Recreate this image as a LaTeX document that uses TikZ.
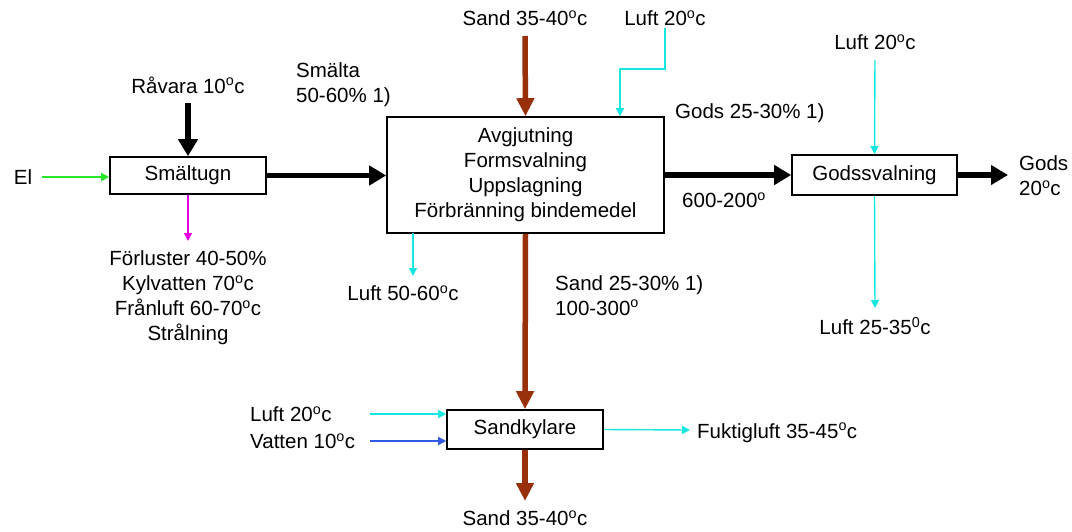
\documentclass[tikz,border=0pt]{standalone}
\usepackage{fontspec}
\setmainfont{Liberation Sans}
\usetikzlibrary{arrows.meta}
\definecolor{brownc}{RGB}{153,48,12}
\definecolor{cyanc}{RGB}{20,230,225}
\definecolor{greenc}{RGB}{40,230,40}
\definecolor{magc}{RGB}{230,0,230}
\definecolor{bluec}{RGB}{50,90,230}
\newcommand{\dg}{\textsuperscript{o}}
\begin{document}
\begin{tikzpicture}[x=1pt,y=-1pt,
  font=\fontsize{20.5}{25}\selectfont,
  proc/.style={draw, line width=1.6pt, rectangle, inner sep=0pt, align=center, fill=white},
  lbl/.style={inner sep=0pt, align=center},
  blackflow/.style={line width=5.5pt, -{Triangle[length=17pt,width=19pt]}},
  brownflow/.style={draw=brownc, line width=5.5pt, -{Triangle[length=18pt,width=17pt]}, color=brownc},
  thinflow/.style={line width=1.4pt, -{Triangle[length=8pt,width=8pt]}},
]
\useasboundingbox (0,0) rectangle (1072,531);

% process boxes
\node[proc, minimum width=156pt, minimum height=37pt] (ugn) at (188,175.5) {Smältugn};
\node[proc, minimum width=277pt, minimum height=116pt] (main) at (525.5,175) {Avgjutning\\Formsvalning\\Uppslagning\\Förbränning bindemedel};
\node[proc, minimum width=165pt, minimum height=40pt] (gods) at (874.5,175) {Godssvalning};
\node[proc, minimum width=156pt, minimum height=39pt] (kyl) at (525,429.5) {Sandkylare};

% labels
\node[lbl] (el) at (23,177) {El};
\node[lbl] (ravara) at (188,85) {Råvara 10\dg c};
\node[lbl] (forl) at (188,298) {Förluster 40-50\%\\Kylvatten 70\dg c\\Frånluft 60-70\dg c\\Strålning};
\node[lbl, anchor=west, align=left] (smalta) at (296,85) {Smälta\\50-60\% 1)};
\node[lbl] (sandin) at (525,18) {Sand 35-40\dg c};
\node[lbl] (luftA) at (665,18) {Luft 20\dg c};
\node[lbl, anchor=west] (gods2530) at (675,113) {Gods 25-30\% 1)};
\node[lbl, anchor=west] (t600) at (682,200) {600-200\dg};
\node[lbl] (luftB) at (875,42) {Luft 20\dg c};
\node[lbl] (luftC) at (875,326) {Luft 25-35\textsuperscript{0}c};
\node[lbl, anchor=west, align=left] (godsut) at (1019,176) {Gods\\20\dg c};
\node[lbl] (luftD) at (403,293) {Luft 50-60\dg c};
\node[lbl, anchor=west, align=left] (sand2530) at (555,295.5) {Sand 25-30\% 1)\\100-300\dg};
\node[lbl, anchor=west] (luftE) at (250,414) {Luft 20\dg c};
\node[lbl, anchor=west] (vatten) at (250,441) {Vatten 10\dg c};
\node[lbl, anchor=west] (fukt) at (697,433) {Fuktigluft 35-45\dg c};
\node[lbl] (sandut) at (525,518) {Sand 35-40\dg c};

% free-end coordinates
\coordinate (elS) at (42,177);
\coordinate (ravS) at (188,103);
\coordinate (forlE) at (188,241);
\coordinate (sandS) at (525,36);
\coordinate (luftAS) at (665,28);
\coordinate (luftAK) at (620,69);
\coordinate (luftBS) at (875,60);
\coordinate (luftCE) at (875,308);
\coordinate (godsE) at (1008,175);
\coordinate (luftDS) at (413,233);
\coordinate (luftDE) at (413,276);
\coordinate (luftES) at (370,414);
\coordinate (vattS) at (370,441);
\coordinate (fuktE) at (690,430);
\coordinate (sandE) at (525,501);

% connectors
\draw[thinflow, greenc] (elS) -- (ugn.west |- elS);
\draw[blackflow] (ravS) -- (ugn.north);
\draw[thinflow, magc] (ugn.south) -- (forlE);
\draw[blackflow] (ugn.east) -- (main.west |- ugn.east);
\draw[brownflow] (sandS) -- (main.north);
\draw[thinflow, cyanc] (luftAS) |- (luftAK) -- (main.north -| luftAK);
\draw[blackflow] (main.east) -- (gods.west);
\draw[thinflow, cyanc] (luftBS) -- (gods.north);
\draw[thinflow, cyanc] (gods.south) -- (luftCE);
\draw[blackflow] (gods.east) -- (godsE);
\draw[thinflow, cyanc] (luftDS) -- (luftDE);
\draw[brownflow] (main.south) -- (kyl.north);
\draw[thinflow, cyanc] (luftES) -- (kyl.west |- luftES);
\draw[thinflow, bluec] (vattS) -- (kyl.west |- vattS);
\draw[thinflow, cyanc] (kyl.east) -- (fuktE);
\draw[brownflow] (kyl.south) -- (sandE);
\end{tikzpicture}
\end{document}
